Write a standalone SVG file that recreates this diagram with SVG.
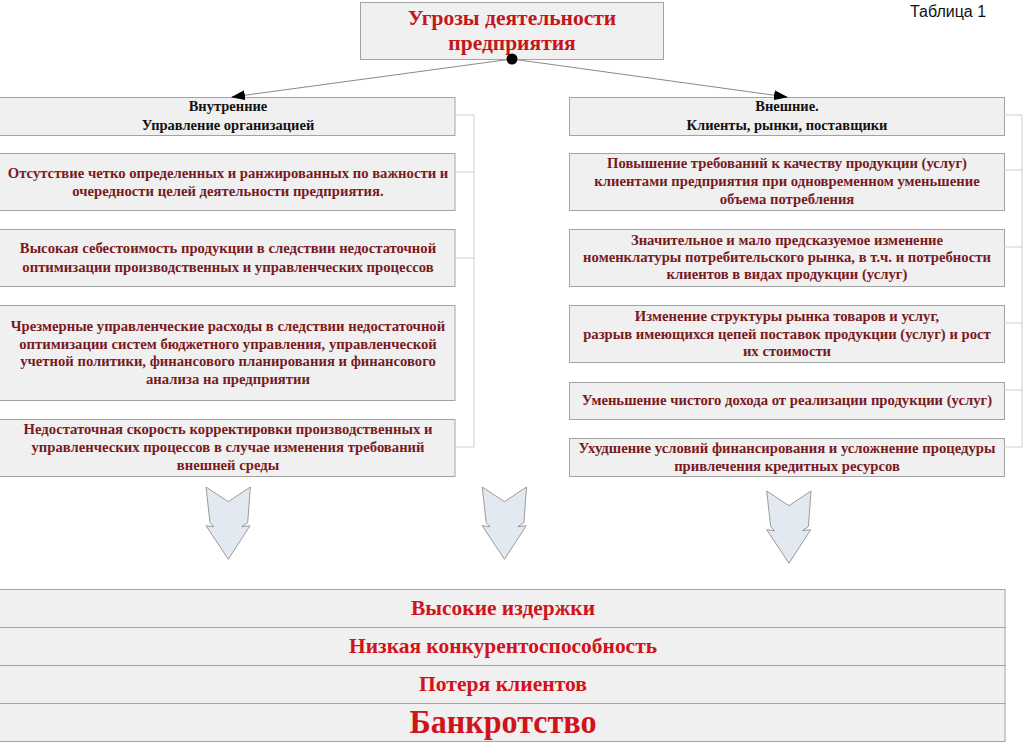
<svg xmlns="http://www.w3.org/2000/svg" width="1024" height="742" viewBox="0 0 1024 742">
<defs>
<style>
.box{fill:#f0f0f0;stroke:#a3a3a3;stroke-width:1}
.t{font-family:"Liberation Serif","Times New Roman",serif;font-weight:bold;text-anchor:middle}
.title{font-size:21.5px;fill:#c4161c}
.hd{font-size:14.5px;fill:#111}
.it{font-size:14.7px;fill:#7a1a1e}
.bt{font-size:22px;fill:#d0141b}
.br{fill:none;stroke:#cfcfcf;stroke-width:1}
.con{fill:none;stroke:#8a8a8a;stroke-width:1}
.darr{fill:#e3e9f1;stroke:#9a9a9a;stroke-width:1}
</style>
<marker id="ah" markerWidth="14" markerHeight="10" refX="13" refY="5" orient="auto" markerUnits="userSpaceOnUse">
<path d="M0,0 L14,5 L0,10 Z" fill="#000"/>
</marker>
<path id="dn" d="M-22.3,0 L0,14.7 L22,0 L19.4,35.6 L13.4,39.7 L21.7,38.7 L0,72.3 L-22.3,38.7 L-14.5,39.7 L-18.3,35.6 Z"/>
</defs>
<rect width="1024" height="742" fill="#fff"/>

<text x="910" y="17" font-family="Liberation Sans, Arial, sans-serif" font-size="16" fill="#111">Таблица 1</text>

<g id="title">
<rect class="box" x="360.5" y="2.5" width="303" height="57"/>
<text class="t title" x="512" y="25">Угрозы деятельности</text>
<text class="t title" x="512" y="50">предприятия</text>
</g>

<g id="internal">
<rect class="box" x="-1" y="97.5" width="456" height="38"/>
<text class="t hd" x="228" y="111">Внутренние</text>
<text class="t hd" x="228" y="130">Управление организацией</text>
</g>
<g id="external">
<rect class="box" x="569.5" y="97.5" width="435" height="38"/>
<text class="t hd" x="787" y="111">Внешние.</text>
<text class="t hd" x="787" y="130">Клиенты, рынки, поставщики</text>
</g>

<g id="int1">
<rect class="box" x="-1" y="153.5" width="456" height="57"/>
<text class="t it" x="228" y="177.5">Отсутствие четко определенных и ранжированных по важности и</text>
<text class="t it" x="228" y="195.5">очередности целей деятельности предприятия.</text>
</g>
<g id="int2">
<rect class="box" x="-1" y="229.5" width="456" height="57"/>
<text class="t it" x="228" y="253">Высокая себестоимость продукции в следствии недостаточной</text>
<text class="t it" x="228" y="271.5">оптимизации производственных и управленческих процессов</text>
</g>
<g id="int3">
<rect class="box" x="-1" y="305.5" width="456" height="95"/>
<text class="t it" x="228" y="330.5">Чрезмерные управленческие расходы в следствии недостаточной</text>
<text class="t it" x="228" y="348.5">оптимизации систем бюджетного управления, управленческой</text>
<text class="t it" x="228" y="366">учетной политики, финансового планирования и финансового</text>
<text class="t it" x="228" y="384">анализа на предприятии</text>
</g>
<g id="int4">
<rect class="box" x="-1" y="419.5" width="456" height="57"/>
<text class="t it" x="228" y="434">Недостаточная скорость корректировки производственных и</text>
<text class="t it" x="228" y="452">управленческих процессов в случае изменения требований</text>
<text class="t it" x="228" y="470">внешней среды</text>
</g>

<g id="ext1">
<rect class="box" x="569.5" y="153.5" width="435" height="57"/>
<text class="t it" x="787" y="168">Повышение требований к качеству продукции (услуг)</text>
<text class="t it" x="787" y="186">клиентами предприятия при одновременном уменьшение</text>
<text class="t it" x="787" y="204">объема потребления</text>
</g>
<g id="ext2">
<rect class="box" x="569.5" y="229.5" width="435" height="57"/>
<text class="t it" x="787" y="244.5">Значительное и мало предсказуемое изменение</text>
<text class="t it" x="787" y="262">номенклатуры потребительского рынка, в т.ч. и потребности</text>
<text class="t it" x="787" y="279">клиентов в видах продукции (услуг)</text>
</g>
<g id="ext3">
<rect class="box" x="569.5" y="305.5" width="435" height="57"/>
<text class="t it" x="787" y="320.5">Изменение структуры рынка товаров и услуг,</text>
<text class="t it" x="787" y="338.5">разрыв имеющихся цепей поставок продукции (услуг) и рост</text>
<text class="t it" x="787" y="356">их стоимости</text>
</g>
<g id="ext4">
<rect class="box" x="569.5" y="382.5" width="435" height="37"/>
<text class="t it" x="787" y="405">Уменьшение чистого дохода от реализации продукции (услуг)</text>
</g>
<g id="ext5">
<rect class="box" x="569.5" y="438.5" width="435" height="38"/>
<text class="t it" x="787" y="452.5">Ухудшение условий финансирования и усложнение процедуры</text>
<text class="t it" x="787" y="470.5">привлечения кредитных ресурсов</text>
</g>

<g id="connectors">
<line class="con" x1="512" y1="59" x2="232" y2="97" marker-end="url(#ah)"/>
<line class="con" x1="512" y1="59" x2="787" y2="97" marker-end="url(#ah)"/>
<circle cx="512" cy="59" r="5.5" fill="#000"/>
<path class="br" d="M455,115 H474 V447 H455 M455,172 H474 M455,258 H474"/>
<path class="br" d="M1004,115 H1022 V447 H1004 M1004,170 H1022 M1004,247 H1022 M1004,323 H1022 M1004,390 H1022"/>
</g>

<g id="flow-arrows">
<use href="#dn" class="darr" transform="translate(228.3,487)"/>
<use href="#dn" class="darr" transform="translate(504.5,487)"/>
<use href="#dn" class="darr" transform="translate(789,491)"/>
</g>

<g id="res1">
<rect class="box" x="-1" y="589.5" width="1006" height="38"/>
<text class="t bt" x="503" y="615" textLength="184" lengthAdjust="spacingAndGlyphs">Высокие издержки</text>
</g>
<g id="res2">
<rect class="box" x="-1" y="627.5" width="1006" height="38"/>
<text class="t bt" x="503" y="653" textLength="308" lengthAdjust="spacingAndGlyphs">Низкая конкурентоспособность</text>
</g>
<g id="res3">
<rect class="box" x="-1" y="665.5" width="1006" height="38"/>
<text class="t bt" x="503" y="691" textLength="168" lengthAdjust="spacingAndGlyphs">Потеря клиентов</text>
</g>
<g id="res4">
<rect class="box" x="-1" y="703.5" width="1006" height="38"/>
<text class="t bt" x="503" y="732.5" textLength="187" lengthAdjust="spacingAndGlyphs" style="font-size:33px">Банкротство</text>
</g>
</svg>
